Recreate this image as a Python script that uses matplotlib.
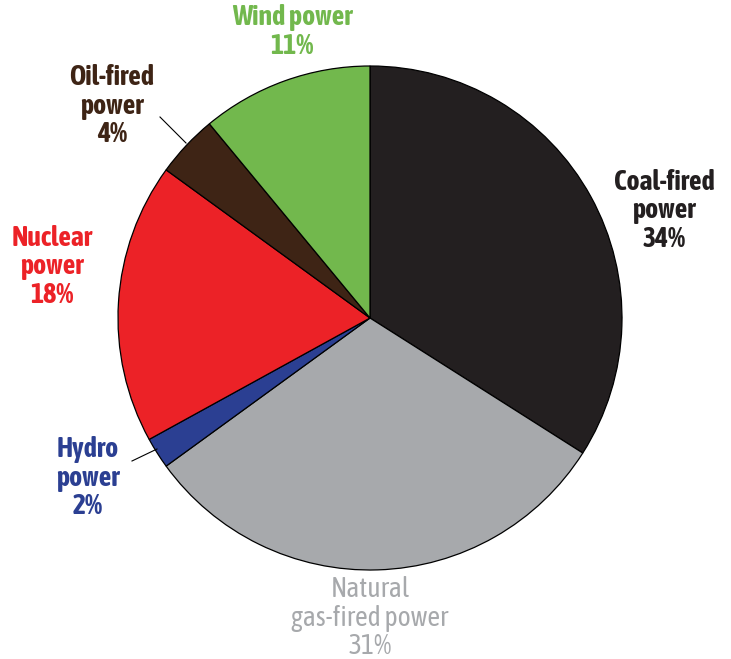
import matplotlib.pyplot as plt
from matplotlib import font_manager

# data (clockwise from 12 o'clock)
sources = ["Coal-fired\npower", "Natural\ngas-fired power", "Hydro\npower",
           "Nuclear\npower", "Oil-fired\npower", "Wind power"]
shares = [34, 31, 2, 18, 4, 11]
colors = ["#231f20", "#a7a9ac", "#2b3f92", "#ec2227", "#3e2415", "#72b84d"]
text_colors = ["#231f20", "#a7a9ac", "#2b3f92", "#ec2227", "#3e2415", "#72b84d"]

# look for a narrow / condensed face with a bold weight
fonts = font_manager.fontManager.ttflist
narrow = [f for f in fonts if 'Narrow' in f.name or 'Condensed' in f.name]
bold_narrow = sorted({f.name for f in narrow if f.weight in (600, 700, 800, 'bold', 'semibold')})
any_narrow = sorted({f.name for f in narrow})
if bold_narrow:
    family = [bold_narrow[0], 'DejaVu Sans']
elif any_narrow:
    family = [any_narrow[0], 'DejaVu Sans']
else:
    family = ['DejaVu Sans']
plt.rcParams['font.family'] = family

fig = plt.figure(figsize=(7.31, 6.59), dpi=100)
# pie centre at (370, 318) px, radius 252 px
cx, cy, r = 370, 318, 252
W, H = 731, 659
ax = fig.add_axes([(cx - r) / W, (H - cy - r) / H, 2 * r / W, 2 * r / H])
ax.pie(shares, colors=colors, startangle=90, counterclock=False, radius=1,
       wedgeprops=dict(edgecolor="black", linewidth=0.9))
ax.set_xlim(-1, 1)
ax.set_ylim(-1, 1)
ax.set_aspect('auto')
ax.axis('off')


def d(px, py):
    return (px - cx) / r, (cy - py) / r


# label positions in pixels (centre of the text block)
label_pos = [(664, 211), (370, 618), (88, 478), (52, 267), (112, 106), (292, 32)]
weights = ["bold", "normal", "bold", "bold", "bold", "bold"]

for name, share, col, (px, py), w in zip(sources, shares, text_colors, label_pos, weights):
    x, y = d(px, py)
    ax.text(x, y, f"{name}\n{share}%", ha="center", va="center", color=col,
            fontsize=20, fontweight=w, linespacing=1.05, clip_on=False)

# leader lines
for (x1, y1), (x2, y2) in [((160, 117), (186, 143)), ((132, 461), (157, 449))]:
    a, b = d(x1, y1)
    c, e = d(x2, y2)
    ax.plot([a, c], [b, e], color="black", linewidth=0.8, clip_on=False)

fig.savefig("out.png", dpi=100)
